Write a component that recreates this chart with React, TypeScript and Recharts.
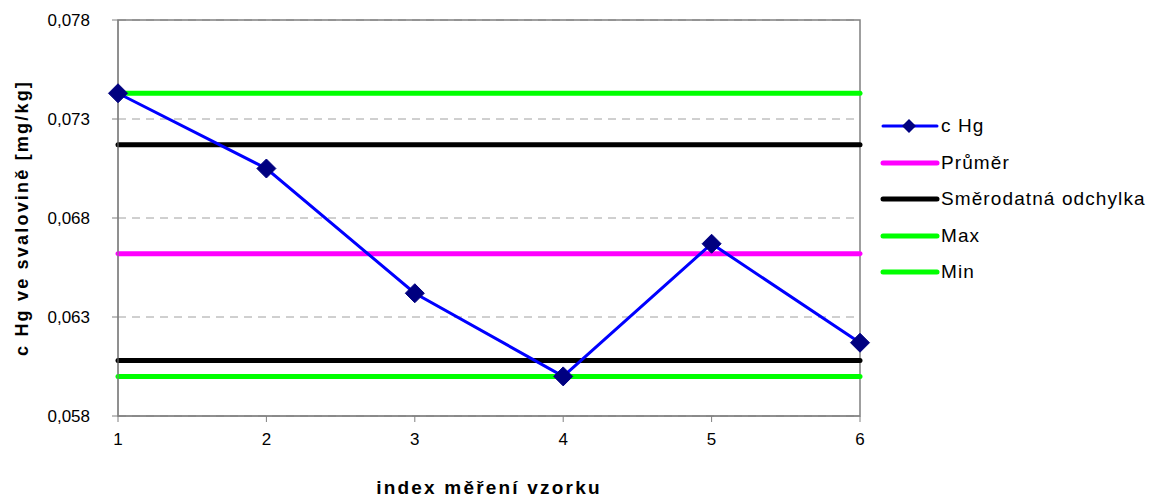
import React from 'react';
import {
  ComposedChart,
  Line,
  XAxis,
  YAxis,
  CartesianGrid,
  ReferenceArea,
  Legend,
} from 'recharts';

// index of each measured sample
const indexes = [1, 2, 3, 4, 5, 6];
// mercury content in muscle tissue [mg/kg]
const cHg = [0.0743, 0.0705, 0.0642, 0.06, 0.0667, 0.0617];

// summary levels drawn as horizontal lines
const prumer = 0.0662;
const odchylkaHorni = 0.0717;
const odchylkaDolni = 0.0608;
const maxHg = 0.0743;
const minHg = 0.06;

const yTicks = [0.058, 0.063, 0.068, 0.073, 0.078];

const legendItems = [
  { name: 'c Hg', color: '#0000FF', marker: true },
  { name: 'Průměr', color: '#FF00FF', marker: false },
  { name: 'Směrodatná odchylka', color: '#000000', marker: false },
  { name: 'Max', color: '#00FF00', marker: false },
  { name: 'Min', color: '#00FF00', marker: false },
];

const data = indexes.map((x, i) => ({
  x,
  cHg: cHg[i],
  prumer,
  odchylkaHorni,
  odchylkaDolni,
  max: maxHg,
  min: minHg,
}));

const font = '"Liberation Sans", Arial, sans-serif';
const axisGray = '#808080';

const fmt = (v: number) => v.toFixed(3).replace('.', ',');

const Diamond = (props: any) => {
  const { cx, cy, index } = props;
  if (cx == null || cy == null) return null;
  const r = 9.5;
  return (
    <polygon
      key={`d-${index}`}
      points={`${cx},${cy - r} ${cx + r},${cy} ${cx},${cy + r} ${cx - r},${cy}`}
      fill="#000080"
      stroke="#000080"
    />
  );
};

const LegendBox = () => (
  <div style={{ fontFamily: font, fontSize: 19, letterSpacing: 1.1, color: '#000' }}>
    {legendItems.map((item) => (
      <div
        key={item.name}
        style={{ display: 'flex', alignItems: 'center', height: 36.5 }}
      >
        <svg width={60} height={20} style={{ marginRight: 1 }}>
          <line
            x1={3}
            y1={10}
            x2={57}
            y2={10}
            stroke={item.color}
            strokeWidth={item.marker ? 3 : 5}
            strokeLinecap="round"
          />
          {item.marker && (
            <polygon points="29,3 36,10 29,17 22,10" fill="#000080" />
          )}
        </svg>
        <span>{item.name}</span>
      </div>
    ))}
  </div>
);

const flatLine = (key: string, color: string) => (
  <Line
    key={key}
    type="linear"
    dataKey={key}
    stroke={color}
    strokeWidth={5}
    strokeLinecap="round"
    dot={false}
    activeDot={false}
    isAnimationActive={false}
  />
);

export default function App() {
  return (
    <div style={{ position: 'absolute', left: 0, top: 0, background: '#fff' }}>
      <ComposedChart
        width={1153}
        height={497}
        data={data}
        margin={{ top: 20, right: 293, bottom: 0, left: 0 }}
        style={{ fontFamily: font }}
      >
        <CartesianGrid
          vertical={false}
          stroke="#a0a0a0"
          strokeDasharray="8 6"
        />
        <XAxis
          dataKey="x"
          type="number"
          domain={[1, 6]}
          ticks={indexes}
          height={81}
          stroke={axisGray}
          tickSize={6}
          fontSize={17}
          tick={{ fill: '#000', fontSize: 17, dy: 9 }}
          label={{
            content: () => (
              <text
                x={489}
                y={487}
                textAnchor="middle"
                dominantBaseline="central"
                fontSize={19}
                fontWeight="bold"
                letterSpacing={2.2}
                fill="#000"
              >
                index měření vzorku
              </text>
            ),
          }}
        />
        <YAxis
          type="number"
          domain={[0.058, 0.078]}
          ticks={yTicks}
          width={118}
          stroke={axisGray}
          tickSize={6}
          fontSize={17}
          tickFormatter={fmt}
          tick={{ fill: '#000', fontSize: 17, dx: -20 }}
          label={{
            content: () => (
              <text
                x={22}
                y={218}
                transform="rotate(-90, 22, 218)"
                textAnchor="middle"
                dominantBaseline="central"
                fontSize={18}
                fontWeight="bold"
                letterSpacing={2.2}
                fill="#000"
              >
                c Hg ve svalovině [mg/kg]
              </text>
            ),
          }}
        />
        <ReferenceArea
          x1={1}
          x2={6}
          y1={0.058}
          y2={0.078}
          fill="none"
          stroke={axisGray}
          strokeWidth={1.5}
          ifOverflow="visible"
        />
        {flatLine('prumer', '#FF00FF')}
        {flatLine('odchylkaHorni', '#000000')}
        {flatLine('odchylkaDolni', '#000000')}
        {flatLine('max', '#00FF00')}
        {flatLine('min', '#00FF00')}
        <Line
          type="linear"
          dataKey="cHg"
          stroke="#0000FF"
          strokeWidth={3}
          dot={Diamond}
          activeDot={false}
          isAnimationActive={false}
        />
        {/* centred/middle keeps the legend from shrinking the plot area */}
        <Legend
          layout="vertical"
          align="center"
          verticalAlign="middle"
          content={LegendBox}
          wrapperStyle={{ left: 880, top: 108, width: 273 }}
        />
      </ComposedChart>
    </div>
  );
}
